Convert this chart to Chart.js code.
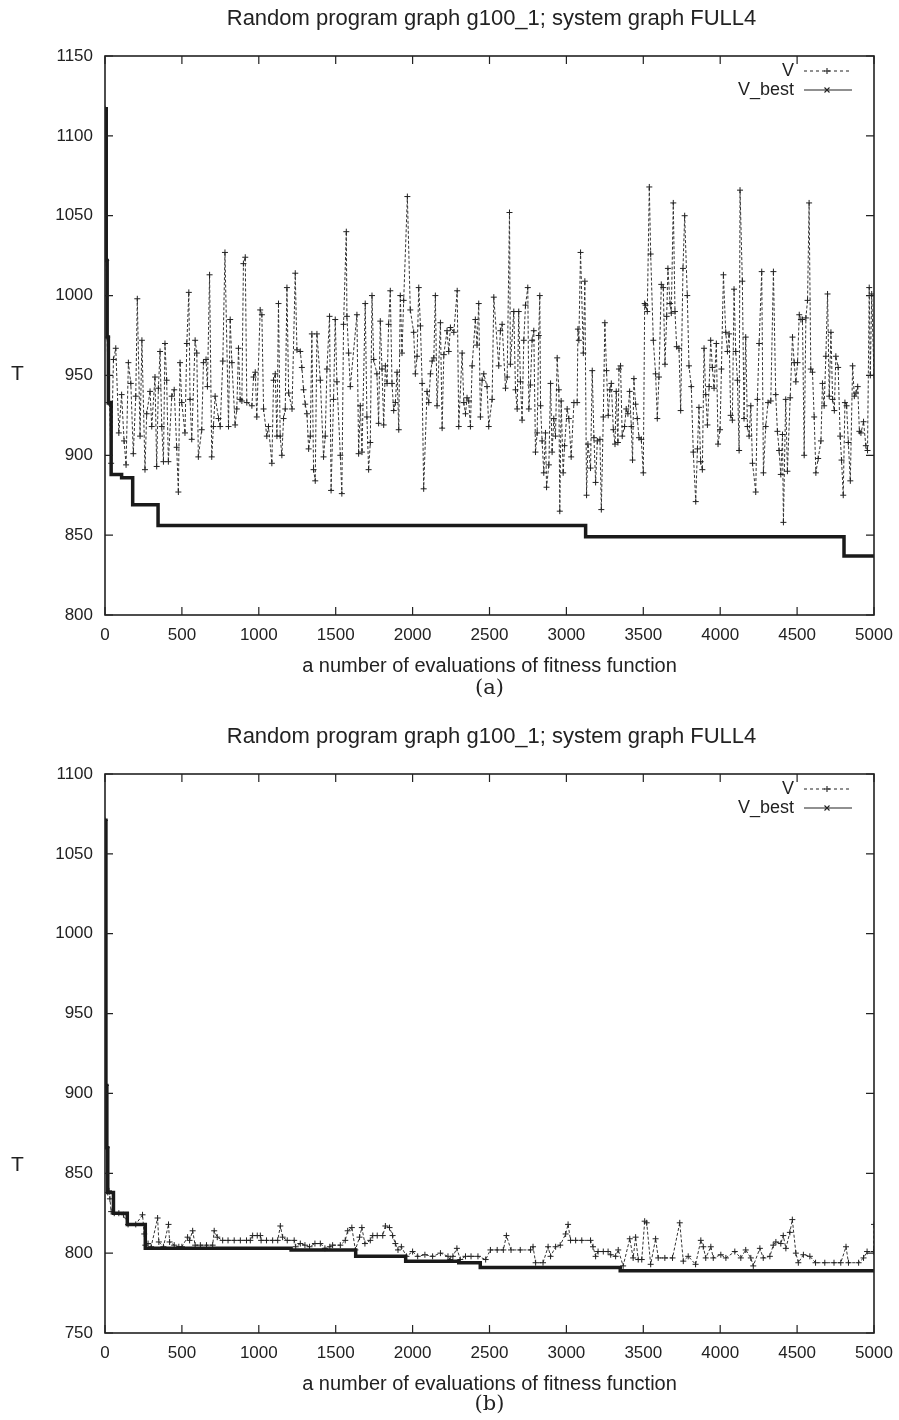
<!DOCTYPE html>
<html>
<head>
<meta charset="utf-8">
<script src="https://cdn.jsdelivr.net/npm/chart.js@4.4.0/dist/chart.umd.min.js"></script>
<style>
  body { margin: 0; background: #fff; }
  #page { position: relative; width: 899px; height: 1420px; font-family: "Liberation Sans", Arial, sans-serif; color: #222; }
  .box { position: absolute; left: 0; width: 899px; height: 680px; }
  .ylab { position: absolute; left: 11px; font-size: 21px; line-height: 24px; }
  .sub { position: absolute; left: 0; width: 899px; text-align: center; font-family: "DejaVu Serif", "Liberation Serif", serif; font-size: 21px; line-height: 26px; padding-left: 80px; box-sizing: border-box; }
</style>
</head>
<body>
<div id="page">
  <div class="box" style="top:0"><canvas id="chartA" width="899" height="680"></canvas></div>
  <div class="ylab" style="top:361px">T</div>
  <div class="sub" style="top:674px">(a)</div>
  <div class="box" style="top:718px"><canvas id="chartB" width="899" height="680"></canvas></div>
  <div class="ylab" style="top:1152px">T</div>
  <div class="sub" style="top:1390px">(b)</div>
</div>
<script>
// Texts
const chartTitle = 'Random program graph g100_1; system graph FULL4';
const xTitle = 'a number of evaluations of fitness function';
const seriesNames = ['V', 'V_best'];

// Axes
const xRange = [0, 5000, 500];
const yRangeA = [800, 1150, 50];
const yRangeB = [750, 1100, 50];

// (a) V : [evaluation, T]
const vA = [[0,1117],[8,1022],[14,974],[22,933],[30,932],[40,895],[55,960],[70,967],[90,914],[108,938],[124,909],[137,894],[152,958],[168,945],[184,901],[200,937],[210,998],[228,912],[240,972],[260,891],[271,926],[293,940],[304,918],[325,949],[336,893],[347,942],[358,965],[369,918],[380,896],[390,970],[401,947],[412,896],[434,937],[450,941],[466,905],[477,877],[488,958],[499,933],[520,914],[532,970],[545,1002],[553,935],[564,910],[586,972],[597,964],[607,899],[629,916],[640,958],[657,960],[666,943],[680,1013],[694,899],[705,918],[716,937],[738,923],[749,918],[766,959],[780,1027],[803,918],[814,985],[825,958],[846,919],[857,929],[868,967],[879,935],[890,934],[900,1020],[912,1024],[922,933],[955,931],[966,949],[977,952],[987,924],[1009,991],[1020,988],[1031,929],[1052,912],[1063,918],[1085,895],[1096,947],[1107,951],[1118,912],[1128,995],[1139,912],[1150,900],[1161,923],[1172,929],[1183,1005],[1194,939],[1216,929],[1237,1014],[1248,966],[1270,965],[1280,955],[1291,941],[1302,932],[1313,926],[1324,904],[1335,912],[1345,976],[1356,891],[1367,884],[1378,976],[1400,947],[1421,899],[1432,912],[1443,954],[1460,987],[1470,878],[1486,935],[1497,985],[1508,946],[1530,900],[1540,876],[1551,982],[1569,1040],[1573,987],[1584,964],[1595,943],[1638,988],[1649,901],[1660,931],[1671,902],[1692,995],[1703,924],[1714,891],[1725,908],[1736,1000],[1747,960],[1768,951],[1779,920],[1790,984],[1801,954],[1812,919],[1823,956],[1834,945],[1844,982],[1855,1003],[1866,945],[1877,928],[1888,933],[1899,952],[1910,916],[1920,1000],[1931,964],[1942,997],[1966,1062],[1985,991],[2007,977],[2018,951],[2029,962],[2040,1005],[2051,981],[2062,945],[2072,879],[2094,940],[2105,933],[2116,951],[2127,959],[2138,961],[2148,1000],[2159,931],[2181,983],[2192,917],[2203,963],[2224,978],[2235,965],[2246,980],[2268,977],[2290,1003],[2300,918],[2322,964],[2333,933],[2344,926],[2354,936],[2365,934],[2376,918],[2387,956],[2408,985],[2419,969],[2430,995],[2441,924],[2452,947],[2463,951],[2484,943],[2495,918],[2517,935],[2528,999],[2560,956],[2571,978],[2582,982],[2604,942],[2615,949],[2630,1052],[2636,957],[2658,990],[2669,941],[2680,929],[2690,990],[2701,946],[2712,922],[2723,972],[2734,994],[2749,1005],[2756,929],[2766,944],[2777,972],[2788,978],[2799,902],[2810,914],[2820,975],[2827,1000],[2832,931],[2842,909],[2853,889],[2864,914],[2871,880],[2886,894],[2897,945],[2907,902],[2918,923],[2929,912],[2940,961],[2951,941],[2957,865],[2966,934],[2979,889],[2988,906],[3005,929],[3016,923],[3031,899],[3049,933],[3070,933],[3075,979],[3081,972],[3092,1027],[3110,964],[3120,1009],[3131,875],[3140,907],[3157,892],[3168,953],[3179,911],[3190,883],[3201,909],[3218,910],[3227,866],[3240,924],[3250,983],[3261,953],[3272,925],[3283,941],[3292,945],[3305,916],[3316,907],[3324,940],[3335,908],[3342,954],[3352,956],[3363,912],[3378,918],[3389,929],[3400,926],[3411,940],[3422,918],[3430,897],[3439,948],[3450,932],[3461,923],[3472,911],[3487,910],[3500,889],[3509,995],[3515,994],[3526,990],[3539,1068],[3548,1026],[3565,972],[3580,951],[3591,923],[3602,949],[3617,1007],[3630,1005],[3641,957],[3652,987],[3660,1017],[3674,995],[3682,989],[3695,1058],[3706,990],[3717,968],[3732,967],[3743,928],[3758,1017],[3769,1050],[3786,1000],[3797,956],[3812,943],[3825,902],[3841,871],[3852,904],[3862,930],[3873,896],[3884,891],[3895,967],[3906,938],[3917,919],[3928,943],[3938,972],[3949,955],[3960,942],[3975,970],[3986,907],[3999,916],[4008,954],[4021,1013],[4036,977],[4047,965],[4058,976],[4068,925],[4079,922],[4090,1004],[4101,965],[4112,947],[4123,903],[4129,1066],[4144,1009],[4155,923],[4166,974],[4177,918],[4188,912],[4199,931],[4210,895],[4231,877],[4242,935],[4253,970],[4270,1015],[4281,889],[4296,918],[4311,933],[4329,934],[4346,1015],[4361,938],[4372,915],[4383,903],[4394,888],[4405,913],[4411,858],[4426,935],[4437,890],[4455,936],[4470,974],[4481,958],[4492,946],[4503,958],[4514,988],[4525,985],[4535,985],[4546,900],[4557,986],[4568,997],[4578,1058],[4589,954],[4600,952],[4611,924],[4622,889],[4637,898],[4655,909],[4665,945],[4676,931],[4687,962],[4698,1001],[4709,937],[4720,977],[4731,935],[4742,928],[4752,962],[4767,955],[4780,912],[4789,897],[4800,875],[4811,933],[4822,931],[4833,908],[4846,884],[4861,956],[4872,937],[4883,939],[4894,943],[4905,915],[4915,914],[4932,921],[4947,906],[4958,903],[4969,1005],[4976,950],[4985,1001],[5000,950]];

// (a) V_best : [evaluation where the value starts, T]
const bestA = [[0,1117],[8,1022],[14,974],[22,933],[40,888],[108,886],[180,869],[345,856],[3125,849],[4805,837],[5000,837]];

// (b) V
const vB = [[0,1071],[6,905],[12,866],[18,838],[26,839],[32,834],[40,826],[60,825],[90,825],[120,824],[150,818],[200,818],[244,824],[255,812],[262,805],[280,806],[300,804],[342,822],[350,807],[380,804],[413,818],[420,807],[450,805],[480,804],[500,804],[537,810],[550,808],[570,814],[586,805],[620,805],[660,805],[700,805],[710,814],[730,810],[765,808],[800,808],[840,808],[880,808],[920,808],[945,808],[960,811],[990,811],[1010,811],[1015,808],[1050,808],[1090,808],[1123,808],[1140,817],[1155,810],[1185,808],[1230,808],[1240,804],[1270,806],[1300,805],[1330,804],[1365,806],[1400,806],[1430,803],[1462,804],[1480,805],[1530,805],[1562,808],[1578,814],[1605,816],[1628,802],[1655,810],[1670,816],[1690,806],[1725,808],[1741,811],[1770,811],[1806,811],[1823,817],[1850,816],[1870,811],[1888,806],[1905,802],[1927,804],[1960,798],[2000,801],[2033,798],[2080,799],[2130,798],[2181,800],[2230,798],[2245,796],[2262,798],[2288,803],[2310,796],[2344,798],[2380,798],[2425,798],[2475,796],[2506,802],[2550,802],[2590,802],[2610,811],[2640,802],[2700,802],[2767,802],[2783,804],[2800,794],[2848,794],[2881,804],[2897,798],[2930,804],[2960,805],[2995,812],[3011,818],[3027,808],[3060,808],[3100,808],[3157,808],[3173,804],[3190,798],[3206,801],[3240,801],[3271,801],[3288,799],[3320,798],[3337,802],[3369,792],[3412,809],[3434,797],[3450,810],[3467,796],[3490,796],[3509,820],[3522,819],[3548,793],[3580,809],[3597,797],[3640,797],[3690,797],[3737,819],[3760,795],[3792,798],[3840,793],[3874,808],[3890,804],[3906,797],[3939,804],[3955,797],[4004,799],[4037,797],[4095,801],[4134,797],[4166,802],[4199,797],[4215,792],[4258,803],[4280,797],[4323,798],[4345,805],[4362,807],[4394,806],[4410,811],[4427,803],[4453,813],[4469,821],[4492,800],[4508,794],[4541,799],[4583,798],[4620,794],[4680,794],[4740,794],[4784,794],[4818,804],[4834,794],[4900,794],[4932,797],[4955,801],[4997,801],[5000,818]];

// (b) V_best
const bestB = [[0,1071],[6,905],[12,866],[18,838],[55,825],[145,818],[262,803],[1210,802],[1630,798],[1955,795],[2300,794],[2440,791],[3350,789],[5000,789]];

const FONT = '"Liberation Sans", Arial, sans-serif';
const INK = '#222';

function toPoints(pairs) {
    return pairs.map(p => ({ x: p[0], y: p[1] }));
}

// title centred over the plot, not over the whole canvas
const titlePlugin = {
    id: 'plotTitle',
    afterDraw(chart) {
        const { ctx, chartArea: a } = chart;
        ctx.save();
        ctx.font = '22px ' + FONT;
        ctx.fillStyle = INK;
        ctx.textAlign = 'center';
        ctx.textBaseline = 'middle';
        ctx.fillText(chartTitle, (a.left + a.right) / 2 + 2, 19);
        ctx.restore();
    }
};

// box round the plot with inward ticks on all four sides
const framePlugin = {
    id: 'frame',
    afterDatasetsDraw(chart) {
        const { ctx, chartArea: a, scales } = chart;
        ctx.save();
        ctx.strokeStyle = INK;
        ctx.lineWidth = 1.6;
        ctx.strokeRect(a.left, a.top, a.width, a.height);
        ctx.lineWidth = 1.2;
        ctx.beginPath();
        scales.x.ticks.forEach(t => {
            const px = scales.x.getPixelForValue(t.value);
            ctx.moveTo(px, a.bottom); ctx.lineTo(px, a.bottom - 8);
            ctx.moveTo(px, a.top); ctx.lineTo(px, a.top + 8);
        });
        scales.y.ticks.forEach(t => {
            const py = scales.y.getPixelForValue(t.value);
            ctx.moveTo(a.left, py); ctx.lineTo(a.left + 8, py);
            ctx.moveTo(a.right, py); ctx.lineTo(a.right - 8, py);
        });
        ctx.stroke();
        ctx.restore();
    }
};

// gnuplot style key: label on the left, line sample on the right
const keyPlugin = {
    id: 'key',
    afterDraw(chart) {
        const { ctx, chartArea: a } = chart;
        ctx.save();
        ctx.font = '18px ' + FONT;
        ctx.textAlign = 'right';
        ctx.textBaseline = 'middle';
        chart.data.datasets.forEach((ds, i) => {
            const yy = a.top + 15 + i * 19;
            ctx.fillStyle = INK;
            ctx.fillText(ds.label, a.right - 80, yy);
            ctx.strokeStyle = INK;
            ctx.lineWidth = 1.1;
            ctx.setLineDash(i === 0 ? [3, 3] : []);
            ctx.beginPath();
            ctx.moveTo(a.right - 70, yy);
            ctx.lineTo(a.right - 22, yy);
            ctx.stroke();
            ctx.setLineDash([]);
            const mx = a.right - 47;
            ctx.beginPath();
            if (i === 0) {
                ctx.moveTo(mx - 3, yy); ctx.lineTo(mx + 3, yy);
                ctx.moveTo(mx, yy - 3); ctx.lineTo(mx, yy + 3);
            } else {
                ctx.moveTo(mx - 2.5, yy - 2.5); ctx.lineTo(mx + 2.5, yy + 2.5);
                ctx.moveTo(mx - 2.5, yy + 2.5); ctx.lineTo(mx + 2.5, yy - 2.5);
            }
            ctx.stroke();
        });
        ctx.restore();
    }
};

function makeChart(id, yRange, vData, bestData) {
    const ctx = document.getElementById(id).getContext('2d');
    return new Chart(ctx, {
        type: 'line',
        data: {
            datasets: [{
                label: seriesNames[0],
                data: toPoints(vData),
                borderColor: '#333',
                borderWidth: 1,
                borderDash: [3, 2],
                pointStyle: 'cross',
                pointRadius: 3,
                pointBorderWidth: 1,
                pointBorderColor: '#222',
                tension: 0,
                order: 2
            }, {
                label: seriesNames[1],
                data: toPoints(bestData),
                borderColor: '#1a1a1a',
                borderWidth: 3.5,
                stepped: 'before',
                pointRadius: 0,
                tension: 0,
                order: 1
            }]
        },
        options: {
            responsive: false,
            animation: false,
            layout: { padding: { left: 0, right: 25, top: 56, bottom: 0 } },
            plugins: {
                legend: { display: false },
                tooltip: { enabled: false },
                title: { display: false }
            },
            scales: {
                x: {
                    type: 'linear',
                    min: xRange[0],
                    max: xRange[1],
                    afterFit: s => { s.height = 65; s.paddingLeft = 0; s.paddingRight = 0; },
                    grid: { display: false, drawTicks: false },
                    border: { display: false },
                    ticks: {
                        stepSize: xRange[2],
                        padding: 10,
                        maxRotation: 0,
                        color: INK,
                        font: { size: 17, family: FONT },
                        callback: v => String(v)
                    },
                    title: {
                        display: true,
                        text: xTitle,
                        color: INK,
                        padding: { top: 4, bottom: 2 },
                        font: { size: 20, family: FONT }
                    }
                },
                y: {
                    min: yRange[0],
                    max: yRange[1],
                    afterFit: s => { s.width = 105; },
                    grid: { display: false, drawTicks: false },
                    border: { display: false },
                    ticks: {
                        stepSize: yRange[2],
                        padding: 12,
                        color: INK,
                        font: { size: 17, family: FONT },
                        callback: v => String(v)
                    }
                }
            }
        },
        plugins: [framePlugin, keyPlugin, titlePlugin]
    });
}

makeChart('chartA', yRangeA, vA, bestA);
makeChart('chartB', yRangeB, vB, bestB);
</script>
</body>
</html>
